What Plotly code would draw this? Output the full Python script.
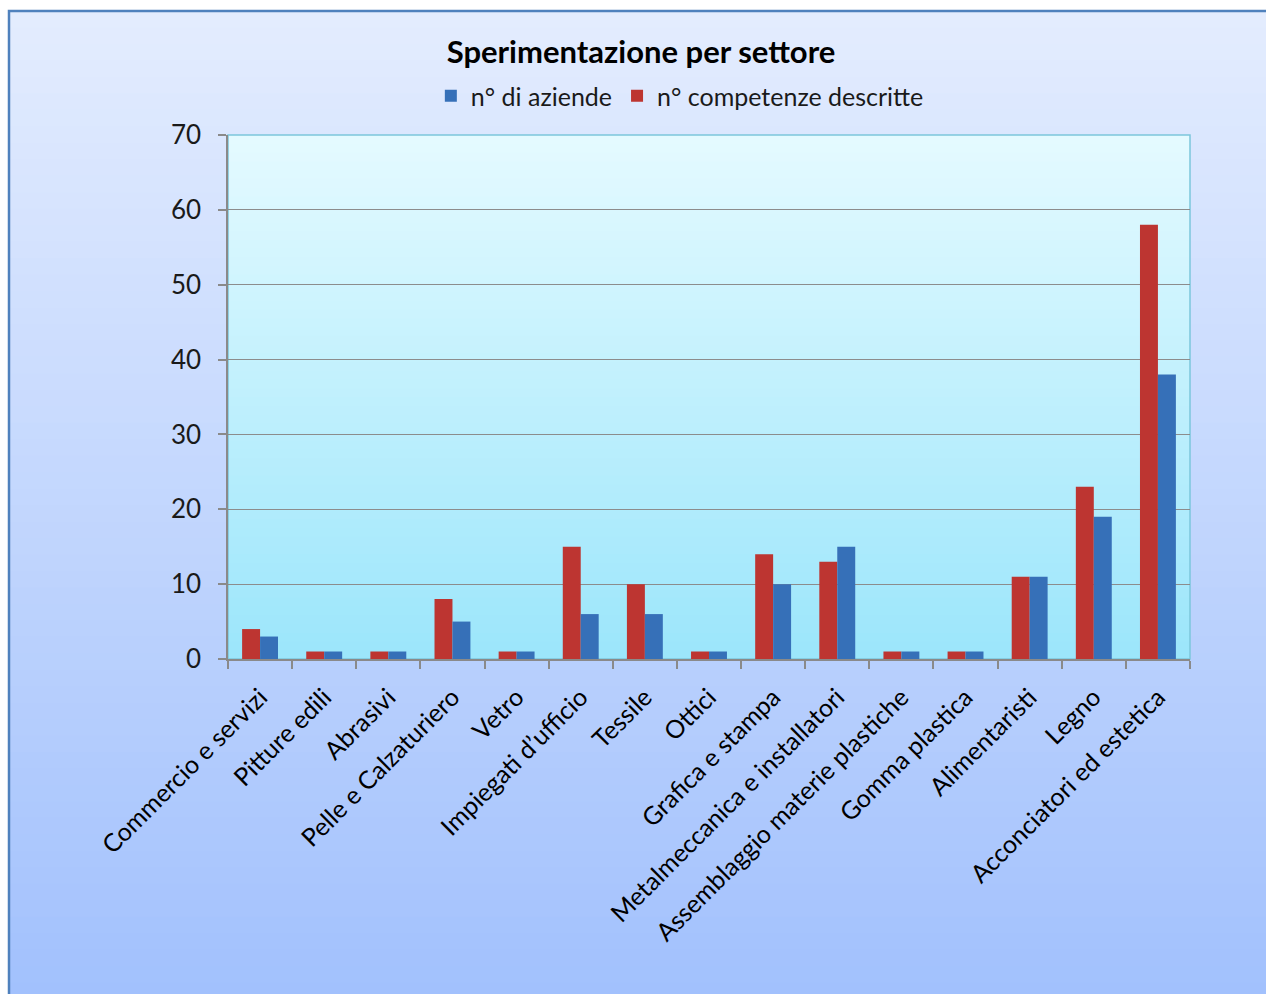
import plotly.graph_objects as go

categories = [
    "Commercio e servizi", "Pitture edili", "Abrasivi", "Pelle e Calzaturiero",
    "Vetro", "Impiegati d\u2019ufficio", "Tessile", "Ottici", "Grafica e stampa",
    "Metalmeccanica e installatori", "Assemblaggio materie plastiche",
    "Gomma plastica", "Alimentaristi", "Legno", "Acconciatori ed estetica",
]
competenze = [4, 1, 1, 8, 1, 15, 10, 1, 14, 13, 1, 1, 11, 23, 58]
aziende = [3, 1, 1, 5, 1, 6, 6, 1, 10, 15, 1, 1, 11, 19, 38]
y_ticks = [0, 10, 20, 30, 40, 50, 60, 70]

W, H = 1266, 994
L, R, T, B = 228, 76, 135, 335
PW, PH = W - L - R, H - T - B

FONT = "Lato"


def px2x(px):
    return (px - L) / PW


def px2y(py):
    return (H - B - py) / PH


def lerp(c1, c2, t):
    return "rgb(%d,%d,%d)" % tuple(round(a + (b - a) * t) for a, b in zip(c1, c2))


shapes = []
# outer gradient background
N = 60
top_c, bot_c = (227, 236, 254), (162, 193, 253)
y0p, y1p = 11, H + 5
for i in range(N):
    a = y0p + (y1p - y0p) * i / N
    b = y0p + (y1p - y0p) * (i + 1) / N + 1
    shapes.append(dict(type="rect", xref="paper", yref="paper",
                       x0=px2x(9), x1=px2x(W + 10), y0=px2y(b), y1=px2y(a),
                       fillcolor=lerp(top_c, bot_c, i / (N - 1)), line_width=0, layer="below"))
# plot area gradient
ptop, pbot = (228, 250, 255), (156, 230, 251)
for i in range(N):
    a = i / N
    b = (i + 1) / N + 0.002
    shapes.append(dict(type="rect", xref="paper", yref="paper",
                       x0=0, x1=1, y0=1 - b, y1=1 - a,
                       fillcolor=lerp(ptop, pbot, i / (N - 1)), line_width=0, layer="below"))
# plot area border (top/right)
shapes.append(dict(type="rect", xref="paper", yref="paper", x0=0, x1=1, y0=0, y1=1,
                   line=dict(color="#7cc6dc", width=1.5), fillcolor="rgba(0,0,0,0)", layer="below"))
# outer chart border
shapes.append(dict(type="rect", xref="paper", yref="paper",
                   x0=px2x(9), x1=px2x(W + 20), y0=px2y(H + 20), y1=px2y(11),
                   line=dict(color="#4f81bd", width=2.5), fillcolor="rgba(0,0,0,0)", layer="below"))

fig = go.Figure()
fig.add_trace(go.Bar(name="n\u00b0 competenze descritte", x=categories, y=competenze,
                     marker=dict(color="#bd3531", line=dict(width=0))))
fig.add_trace(go.Bar(name="n\u00b0 di aziende", x=categories, y=aziende,
                     marker=dict(color="#3670b8", line=dict(width=0))))

fig.update_layout(
    width=W, height=H,
    margin=dict(l=L, r=R, t=T, b=B, autoexpand=False),
    paper_bgcolor="white",
    plot_bgcolor="rgba(0,0,0,0)",
    barmode="group", bargap=0.44, bargroupgap=0,
    font=dict(family=FONT, color="#1a1a1a"),
    title=dict(text="<b>Sperimentazione per settore</b>", x=641 / W, xanchor="center",
               y=1 - 52 / H, yanchor="middle", font=dict(size=31, family=FONT, color="#000")),
    legend=dict(orientation="h", x=0.537, xanchor="center", xref="container",
                y=1 - 96 / H, yref="container", yanchor="middle",
                traceorder="reversed", font=dict(size=25, family=FONT, color="#1a1a1a"),
                bgcolor="rgba(0,0,0,0)"),
    shapes=shapes,
    showlegend=True,
)
fig.update_xaxes(showline=True, linecolor="#8a8a8a", linewidth=1.5,
                 ticks="outside", ticklen=8, tickcolor="#8a8a8a", tickwidth=1.5,
                 tickson="boundaries", tickangle=-45, ticklabelstandoff=12,
                 tickfont=dict(size=25, family=FONT, color="#000"), showgrid=False)
fig.update_yaxes(range=[0, 70], tickvals=y_ticks, showline=True, linecolor="#8a8a8a",
                 linewidth=1.5, ticks="outside", ticklen=8, tickcolor="#8a8a8a",
                 tickwidth=1.5, gridcolor="#8c8c8c", gridwidth=1.3, ticklabelstandoff=12,
                 tickfont=dict(size=26, family=FONT, color="#1a1a1a"), zeroline=False)

fig.write_html("out.html", config={"displayModeBar": False},
               post_script="document.body.style.margin='0';document.body.style.overflow='hidden';")
